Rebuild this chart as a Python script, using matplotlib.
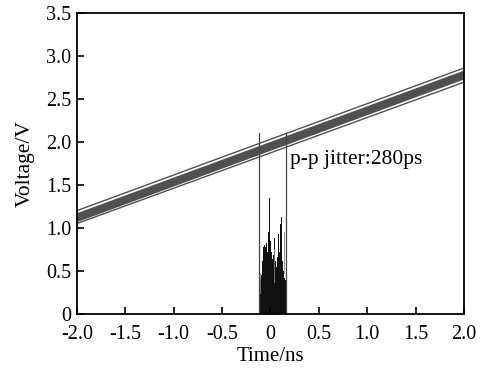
import matplotlib
matplotlib.use("Agg")
import matplotlib.pyplot as plt
import numpy as np

plt.rcParams['font.family'] = ['Liberation Serif', 'DejaVu Serif']

# Eye-diagram rising-edge traces: voltage at t=-2 ns and t=2 ns
trace_start = [1.20, 1.155, 1.14, 1.125, 1.11, 1.095, 1.08, 1.05]
trace_end = [2.86, 2.815, 2.80, 2.785, 2.77, 2.755, 2.74, 2.695]
trace_width = [1.0, 1.7, 1.7, 1.7, 1.7, 1.7, 1.7, 1.0]
trace_t = [-2.0, 2.0]

# Jitter histogram (bin edges in ns, heights in V-scale)
hist_edges = [-0.12, -0.11, -0.10, -0.09, -0.08, -0.07, -0.06, -0.05,
              -0.04, -0.03, -0.02, -0.01, 0.00, 0.01, 0.02, 0.03,
              0.04, 0.05, 0.06, 0.07, 0.08, 0.09, 0.10, 0.11,
              0.12, 0.13, 0.14, 0.15, 0.16]
hist_h = [0.55, 0.40, 0.45, 0.62, 0.78, 0.80, 0.78, 0.82, 0.72, 0.95,
          1.18, 1.35, 0.85, 0.72, 0.64, 0.68, 0.88, 0.62, 0.55, 0.66,
          0.93, 0.72, 1.05, 1.13, 0.62, 0.50, 0.42, 0.40]

# lighter spikes inside the histogram (time, height)
spike_t = [-0.105, 0.035, 0.135]
spike_h = [0.48, 0.75, 0.95]

# p-p jitter markers
marker_t = [-0.115, 0.165]
marker_top = 2.1

xticks = [-2.0, -1.5, -1.0, -0.5, 0, 0.5, 1.0, 1.5, 2.0]
xticklabels = ['-2.0', '-1.5', '-1.0', '-0.5', '0', '0.5', '1.0', '1.5', '2.0']
yticks = [0, 0.5, 1.0, 1.5, 2.0, 2.5, 3.0, 3.5]
yticklabels = ['0', '0.5', '1.0', '1.5', '2.0', '2.5', '3.0', '3.5']

fig = plt.figure(figsize=(4.86, 3.68), dpi=100)
ax = fig.add_axes([0.158, 0.147, 0.797, 0.818])

for s, e, w in zip(trace_start, trace_end, trace_width):
    ax.plot(trace_t, [s, e], color='#505050', lw=w, solid_capstyle='butt')

ax.stairs(hist_h, hist_edges, fill=True, color='#111111')
for t, h in zip(spike_t, spike_h):
    ax.plot([t, t], [h * 0.5, h], color='#888888', lw=0.6)

for t in marker_t:
    ax.plot([t, t], [0, marker_top], color='#444444', lw=0.9)

ax.text(0.2, 1.79, 'p-p jitter:280ps', fontsize=15.5, va='center', ha='left')

ax.set_xlim(-2.0, 2.0)
ax.set_ylim(0, 3.5)
ax.set_xticks(xticks)
ax.set_xticklabels(xticklabels)
ax.set_yticks(yticks)
ax.set_yticklabels(yticklabels)
ax.tick_params(direction='in', length=5, width=1.2, labelsize=14.5,
               top=False, right=False)
ax.tick_params(axis='x', pad=8)
ax.tick_params(axis='y', pad=4)
for sp in ax.spines.values():
    sp.set_linewidth(1.3)
ax.set_xlabel('Time/ns', fontsize=15, labelpad=2)
ax.set_ylabel('Voltage/V', fontsize=15.5, labelpad=8)

fig.savefig('out.png', dpi=100)
